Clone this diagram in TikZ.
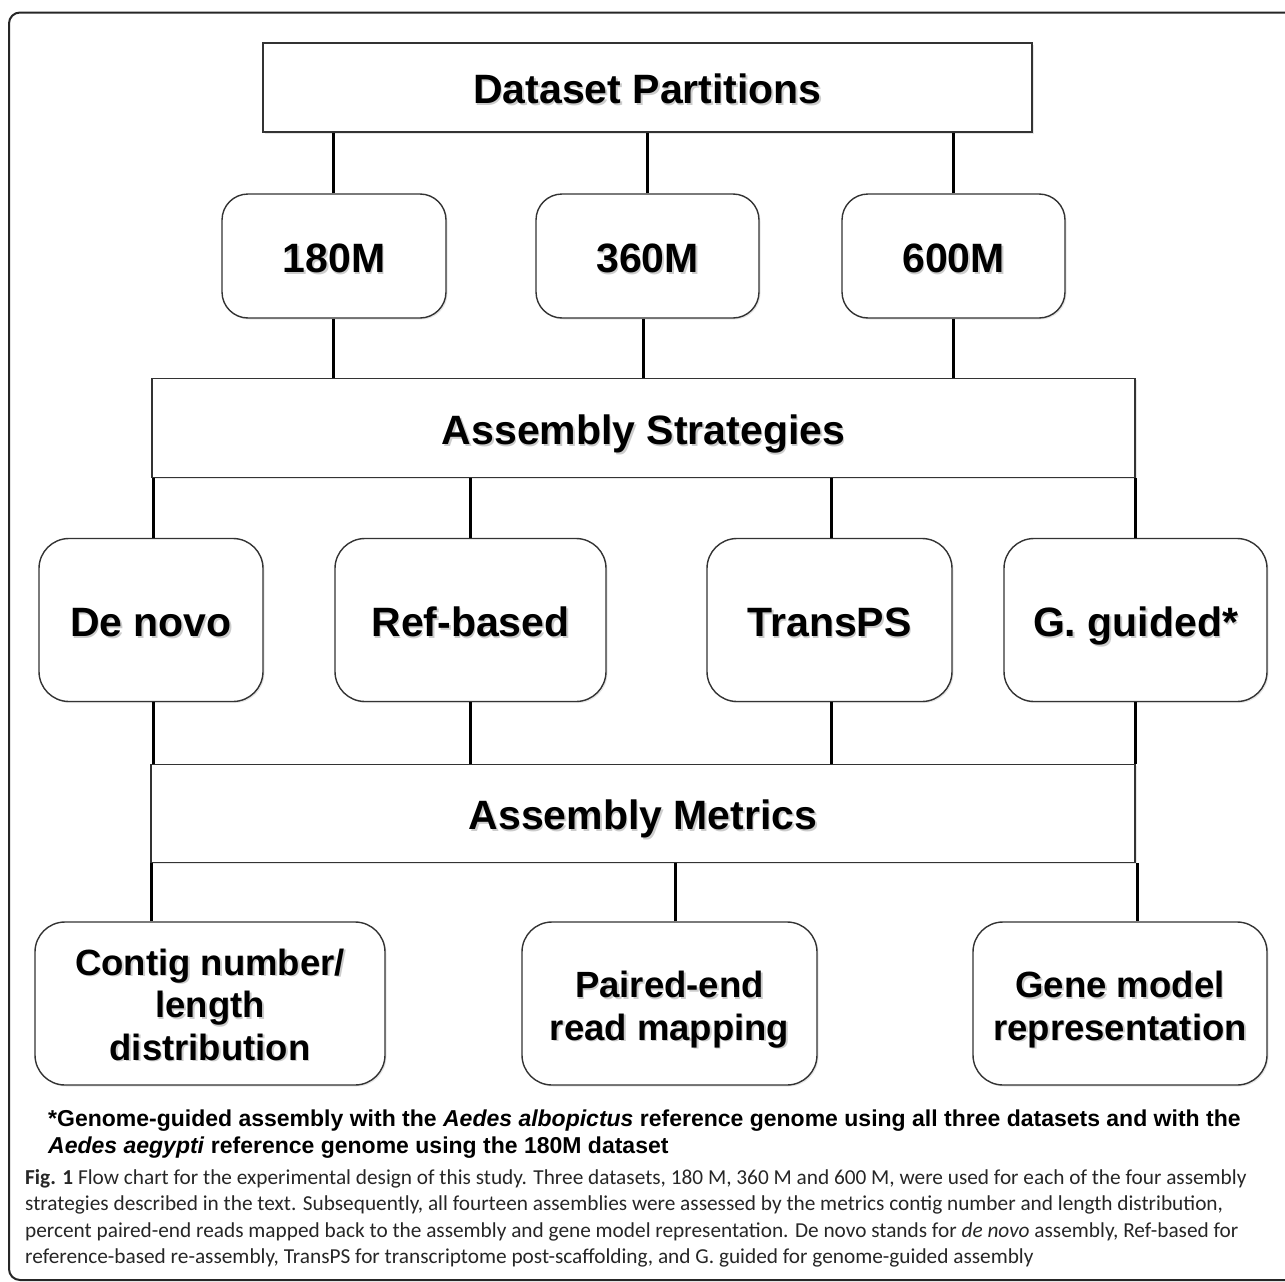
\documentclass[tikz,border=0pt]{standalone}
\usepackage{fontspec}
\setmainfont{Liberation Sans}
\newfontfamily\capfont{Carlito}
\usetikzlibrary{shadows}
\newcommand\shd[1]{\rlap{\hspace{1.6pt}\raisebox{-1.8pt}[0pt][0pt]{\textcolor{black!20}{#1}}}#1}
\tikzset{
  bx/.style={draw=black!80, line width=1.4, fill=white, inner sep=0pt, align=center,
    font=\fontsize{41}{44}\selectfont\bfseries, text height=32.5, text depth=0,
    drop shadow={shadow xshift=1.5pt, shadow yshift=-1.5pt, opacity=0.2}},
  rbx/.style={bx, rounded corners=26},
  mbx/.style={rbx, rounded corners=30, font=\fontsize{36.5}{42.5}\selectfont\bfseries, text depth=0},
  conn/.style={line width=3, black},
  fnote/.style={anchor=base west, inner sep=0pt, font=\fontsize{23}{28}\selectfont\bfseries},
  capt/.style={anchor=base west, inner sep=0pt, font=\capfont\fontsize{21.3}{25}\selectfont, text=black!85},
}
\begin{document}
\begin{tikzpicture}[x=1pt,y=-1pt]
\useasboundingbox (0,0) rectangle (1285,1282);
\begin{scope}
\clip (0,0) rectangle (1285,1282);
\draw[line width=2, black!85, rounded corners=11] (9,12.5) rectangle (1310,1280);
\end{scope}

\node[bx, minimum width=769, minimum height=89] (dp) at (647.5,87.5) {\shd{Dataset Partitions}};

\node[rbx, minimum width=224, minimum height=124] (m180) at (334,256) {\shd{180M}};
\node[rbx, minimum width=223, minimum height=124] (m360) at (647.5,256) {\shd{360M}};
\node[rbx, minimum width=223, minimum height=124] (m600) at (953.5,256) {\shd{600M}};

\node[bx, minimum width=983, minimum height=99] (as) at (643.5,428) {\shd{Assembly Strategies}};

\node[rbx, minimum width=224, minimum height=163, rounded corners=30] (dn) at (151,620) {\shd{De novo}};
\node[rbx, minimum width=271, minimum height=163, rounded corners=30] (rb) at (470.5,620) {\shd{Ref-based}};
\node[rbx, minimum width=245, minimum height=163, rounded corners=30] (tp) at (829.5,620) {\shd{TransPS}};
\node[rbx, minimum width=263, minimum height=163, rounded corners=30] (gg) at (1135.5,620) {\shd{G. guided*}};

\node[bx, minimum width=984, minimum height=98] (am) at (643,813.5) {\shd{Assembly Metrics}};

\node[mbx, minimum width=350, minimum height=163, text height=113] (cn) at (210,1003.5) {\shd{Contig number/}\\\shd{length}\\\shd{distribution}};
\node[mbx, minimum width=295, minimum height=163, text height=73] (pe) at (669.5,1003.5) {\shd{Paired-end}\\\shd{read mapping}};
\node[mbx, minimum width=294, minimum height=163, text height=73] (gm) at (1120,1003.5) {\shd{Gene model}\\\shd{representation}};

% connectors
\draw[conn] ([xshift=-1]m180.north) -- ([xshift=-1]m180.north |- dp.south);
\draw[conn] (m360.north) -- (m360.north |- dp.south);
\draw[conn] (m600.north) -- (m600.north |- dp.south);
\draw[conn] ([xshift=-1]m180.south) -- ([xshift=-1]m180.south |- as.north);
\draw[conn] ([xshift=-4]m360.south) -- ([xshift=-4]m360.south |- as.north);
\draw[conn] (m600.south) -- (m600.south |- as.north);

\draw[conn] ([xshift=2]dn.north) -- ([xshift=2]dn.north |- as.south);
\draw[conn] (rb.north) -- (rb.north |- as.south);
\draw[conn] ([xshift=1.5]tp.north) -- ([xshift=1.5]tp.north |- as.south);
\draw[conn] (gg.north) -- (gg.north |- as.south);

\draw[conn] ([xshift=2]dn.south) -- ([xshift=2]dn.south |- am.north);
\draw[conn] (rb.south) -- (rb.south |- am.north);
\draw[conn] ([xshift=1.5]tp.south) -- ([xshift=1.5]tp.south |- am.north);
\draw[conn] (gg.south) -- (gg.south |- am.north);

\draw[conn] (dn.south |- am.south) -- (dn.south |- cn.north);
\draw[conn] ([xshift=5.5]pe.north) -- ([xshift=5.5]pe.north |- am.south);
\draw[conn] ([xshift=1.5]gg.south |- am.south) -- ([xshift=1.5]gg.south |- gm.north);

% footnote
\node[fnote] (fn1) at (48,1126) {*Genome-guided assembly with the \textit{Aedes albopictus} reference genome using all three datasets and with the};
\node[fnote] (fn2) at (48,1153) {\textit{Aedes aegypti} reference genome using the 180M dataset};

% caption
\node[capt] (c1) at (25,1184) {\textbf{Fig. 1} Flow chart for the experimental design of this study. Three datasets, 180 M, 360 M and 600 M, were used for each of the four assembly};
\node[capt] (c2) at (25,1210.5) {strategies described in the text. Subsequently, all fourteen assemblies were assessed by the metrics contig number and length distribution,};
\node[capt] (c3) at (25,1237) {percent paired-end reads mapped back to the assembly and gene model representation. De novo stands for \textit{de novo} assembly, Ref-based for};
\node[capt] (c4) at (25,1263.5) {reference-based re-assembly, TransPS for transcriptome post-scaffolding, and G. guided for genome-guided assembly};
\end{tikzpicture}
\end{document}
